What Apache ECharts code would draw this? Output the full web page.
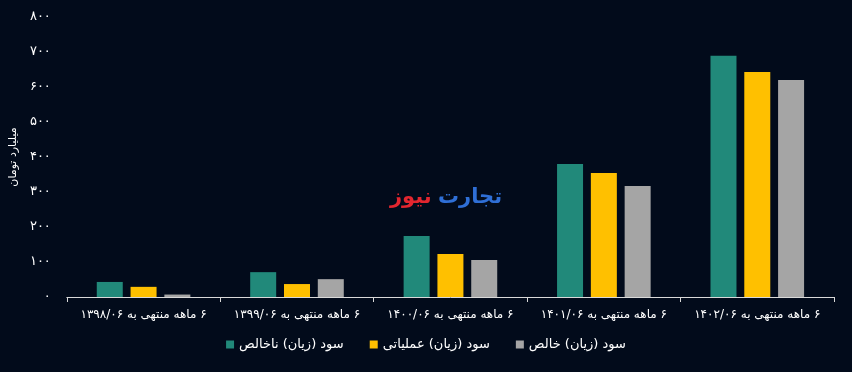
<!DOCTYPE html>
<html>
<head>
<meta charset="utf-8">
<script src="https://cdn.jsdelivr.net/npm/echarts@6/dist/echarts.min.js"></script>
<style>
    html, body { margin: 0; padding: 0; background: #020b1b; }
    #main { width: 852px; height: 372px; }
</style>
</head>
<body>
<div id="main" dir="rtl"></div>
<script>
// داده‌ها
const categories = [
    '۶ ماهه منتهی به ۱۳۹۸/۰۶',
    '۶ ماهه منتهی به ۱۳۹۹/۰۶',
    '۶ ماهه منتهی به ۱۴۰۰/۰۶',
    '۶ ماهه منتهی به ۱۴۰۱/۰۶',
    '۶ ماهه منتهی به ۱۴۰۲/۰۶'
];
const grossProfit = [43, 71, 174, 380, 689];
const operatingProfit = [29, 37, 123, 354, 643];
const netProfit = [7, 51, 106, 317, 620];
const seriesNames = ['سود (زیان) ناخالص', 'سود (زیان) عملیاتی', 'سود (زیان) خالص'];
const colors = ['#21897a', '#ffc000', '#a5a5a5'];

// تبدیل ارقام به فارسی
function toPersian(n) {
    return String(n).replace(/\d/g, d => '۰۱۲۳۴۵۶۷۸۹'[d]);
}

const font = 'DejaVu Sans';
const myChart = echarts.init(document.getElementById('main'));

const option = {
    backgroundColor: '#020b1b',
    textStyle: { fontFamily: font },
    grid: { left: 64, right: 18, top: 17, bottom: 75 },
    legend: {
        bottom: 16,
        left: 'center',
        icon: 'rect',
        itemWidth: 8,
        itemHeight: 8,
        itemGap: 26,
        textStyle: { color: '#ffffff', fontSize: 13, fontFamily: font },
        data: seriesNames
    },
    xAxis: {
        type: 'category',
        data: categories,
        axisLine: { lineStyle: { color: '#d9d9d9', width: 1 } },
        axisTick: { show: true, length: 5, lineStyle: { color: '#d9d9d9' } },
        axisLabel: { color: '#ffffff', fontSize: 12, margin: 12, interval: 0 }
    },
    yAxis: {
        type: 'value',
        min: 0,
        max: 800,
        interval: 100,
        name: 'میلیارد تومان',
        nameLocation: 'middle',
        nameRotate: 90,
        nameGap: 39,
        nameTextStyle: { color: '#ffffff', fontSize: 11 },
        splitLine: { show: false },
        axisLine: { show: false },
        axisTick: { show: false },
        axisLabel: {
            color: '#ffffff',
            fontSize: 13,
            margin: 16,
            formatter: v => toPersian(v)
        }
    },
    graphic: [
        {
            type: 'text',
            left: 390,
            top: 187,
            style: { text: 'نیوز', fill: '#e3262f', font: 'bold 21px ' + font }
        },
        {
            type: 'text',
            left: 438,
            top: 187,
            style: { text: 'تجارت', fill: '#2f6fd6', font: 'bold 21px ' + font }
        }
    ],
    series: [
        { name: seriesNames[0], type: 'bar', data: grossProfit, barWidth: 26, barGap: '30%', itemStyle: { color: colors[0] } },
        { name: seriesNames[1], type: 'bar', data: operatingProfit, barWidth: 26, barGap: '30%', itemStyle: { color: colors[1] } },
        { name: seriesNames[2], type: 'bar', data: netProfit, barWidth: 26, barGap: '30%', itemStyle: { color: colors[2] } }
    ]
};

myChart.setOption(option);
</script>
</body>
</html>
